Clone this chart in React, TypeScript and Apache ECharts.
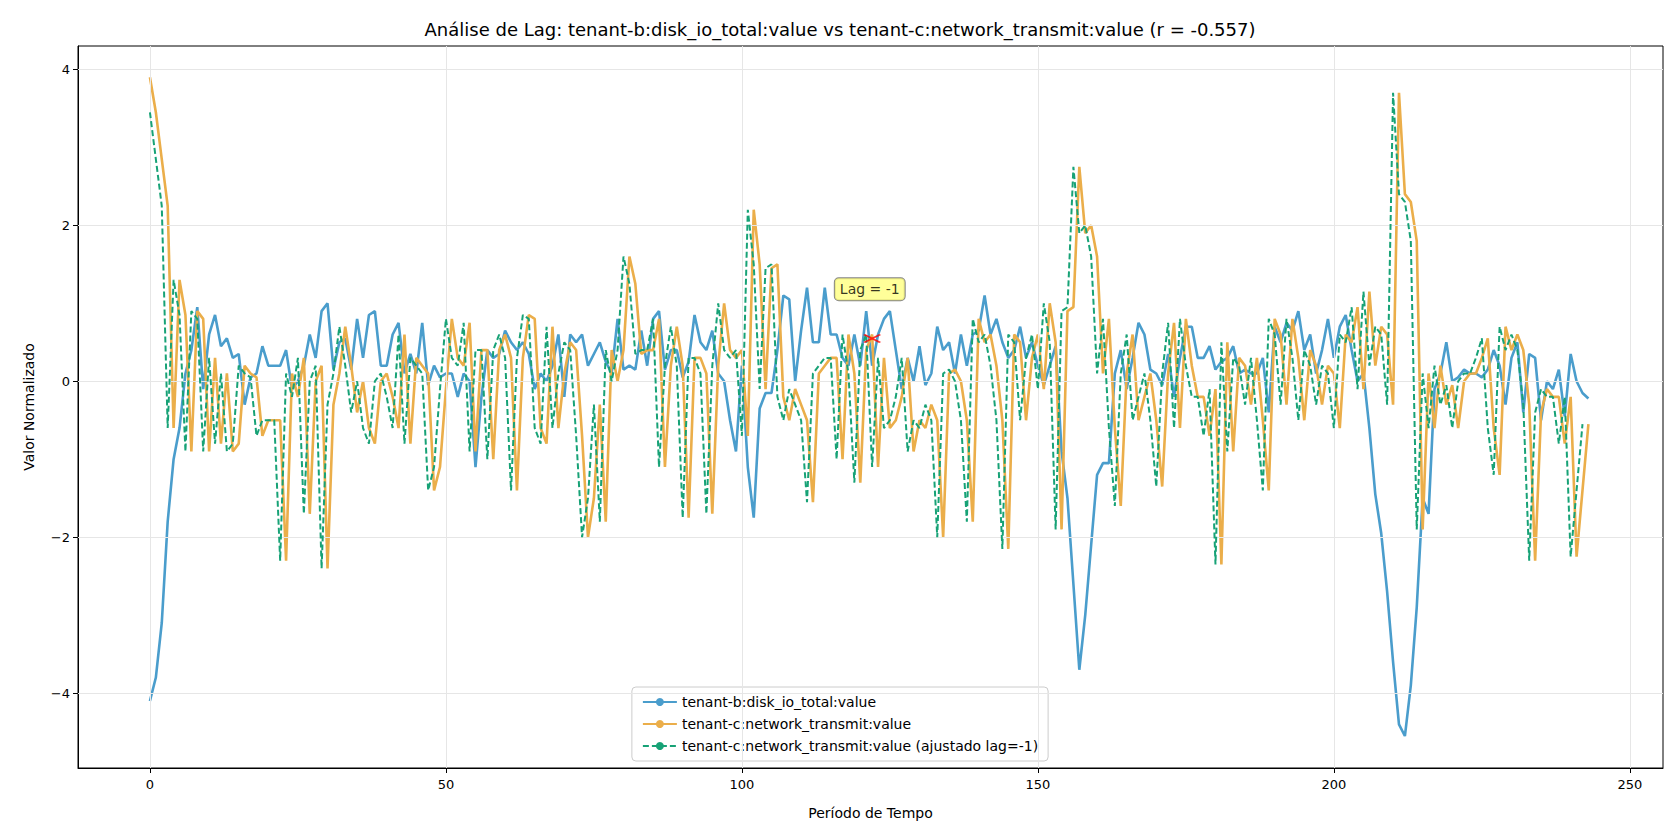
import React, { useEffect, useRef } from "react";
import * as echarts from "echarts";

const titleText = "Análise de Lag: tenant-b:disk_io_total:value vs tenant-c:network_transmit:value (r = -0.557)";
const seriesNames = [
  "tenant-b:disk_io_total:value",
  "tenant-c:network_transmit:value",
  "tenant-c:network_transmit:value (ajustado lag=-1)",
];
const lag = -1;
const xTicks = [0, 50, 100, 150, 200, 250];
const yTicks = [-4, -2, 0, 2, 4];

const blueValues = [
  -4.1, -3.8, -3.1, -1.8, -1.0, -0.6, 0.1, 0.4, 0.95, -0.1, 0.6, 0.85, 0.45, 0.55, 0.3, 0.35, -0.3, 0.05, 0.1, 0.45,
  0.2, 0.2, 0.2, 0.4, -0.1, 0, 0.2, 0.6, 0.3, 0.9, 1.0, 0.15, 0.5, 0.55, 0.15, 0.8, 0.3, 0.85, 0.9, 0.2,
  0.2, 0.6, 0.75, 0.1, 0.35, 0.1, 0.75, -0.05, 0.2, 0.05, 0.1, 0.1, -0.2, 0.1, 0, -1.1, -0.2, 0.4, 0.3, 0.35,
  0.65, 0.5, 0.4, 0.5, 0.35, -0.1, 0.1, 0.0, 0.2, 0.6, -0.2, 0.6, 0.5, 0.6, 0.2, 0.35, 0.5, 0.25, 0.1, 0.8,
  0.15, 0.2, 0.15, 0.65, 0.2, 0.8, 0.9, 0.15, 0.4, 0.4, 0.05, 0.25, 0.85, 0.5, 0.4, 0.65, 0.1, 0.0, -0.5, -0.9,
  0.2, -1.1, -1.75, -0.35, -0.15, -0.15, 0.4, 1.1, 1.05, 0, 0.65, 1.2, 0.5, 0.5, 1.2, 0.6, 0.6, 0.3, 0.2, 0.6,
  0.2, 0.9, 0.2, 0.6, 0.8, 0.9, 0.4, -0.1, 0.3, 0, 0.45, -0.05, 0.1, 0.7, 0.4, 0.5, 0.1, 0.6, 0.2, 0.6,
  0.65, 1.1, 0.6, 0.8, 0.5, 0.3, 0.4, 0.7, 0.3, 0.5, 0.2, -0.05, 0.2, 0.45, -0.9, -1.5, -2.6, -3.7, -3.0, -2.1,
  -1.2, -1.05, -1.05, 0.1, 0.4, -0.1, 0.3, 0.75, 0.6, 0.15, 0.1, -0.05, 0.35, -0.2, 0.3, 0.7, 0.7, 0.3, 0.3, 0.45,
  0.15, 0.25, 0.3, 0.45, 0.1, 0.15, 0.1, 0.1, 0.3, -0.4, 0.7, 0.5, 0.75, 0.65, 0.9, 0.4, 0.6, 0.1, 0.4, 0.8,
  0.3, 0.7, 0.85, 0.4, 0, 0.1, -0.6, -1.45, -1.95, -2.7, -3.6, -4.4, -4.55, -3.9, -2.9, -1.5, -1.7, -0.1, 0.1, 0.5,
  0, 0.05, 0.15, 0.1, 0.1, 0.05, 0.15, 0.4, 0.2, -0.3, 0.3, 0.5, -0.4, 0.35, 0.3, -0.5, 0, -0.1, 0.15, -0.45,
  0.35, 0, -0.15, -0.22,
];

const orangeValues = [
  3.9, 3.45, 2.85, 2.25, -0.6, 1.3, 0.85, -0.9, 0.9, 0.8, -0.9, 0.3, -0.8, 0.1, -0.9, -0.8, 0.2, 0.1, 0.05, -0.7,
  -0.5, -0.5, -0.5, -2.3, 0.1, -0.2, 0.3, -1.7, 0, 0.2, -2.4, -0.3, 0.1, 0.7, 0.2, -0.4, 0, -0.6, -0.8, 0,
  0.1, -0.2, -0.6, 0.6, -0.8, 0.3, 0.2, 0.1, -1.4, -1.1, -0.1, 0.8, 0.3, 0.2, 0.75, -0.9, 0.4, 0.4, -1.0, 0.4,
  0.6, 0.3, -1.4, 0.3, 0.85, 0.8, -0.6, -0.8, 0.7, -0.6, 0.1, 0.5, 0.4, -0.7, -2.0, -1.5, -0.3, -1.8, 0.4, 0,
  0.4, 1.6, 1.25, 0.35, 0.4, 0.4, 0.8, -1.1, 0.2, 0.7, 0.2, -1.75, 0.3, 0.3, 0.1, -1.7, 0.2, 1.0, 0.4, 0.3,
  0.4, -0.7, 2.2, 1.5, -0.1, 1.45, 1.5, -0.2, -0.5, -0.1, -0.3, -0.5, -1.55, 0.1, 0.2, 0.3, 0.3, -1.0, 0.6, 0.1,
  -1.3, 0.4, 0.6, -1.1, 0.3, -0.6, -0.5, -0.2, 0.3, -0.9, -0.5, -0.6, -0.3, -0.5, -2.0, 0.1, 0.15, 0, -0.5, -1.8,
  0.8, 0.5, 0.6, 0.2, -0.5, -2.15, 0.6, 0.5, -0.5, 0.3, 0.6, -0.1, 1.0, 0.5, -1.9, 0.9, 0.95, 2.75, 1.9, 2.0,
  1.6, 0.1, 0.8, -0.6, -1.6, 0.1, 0.6, -0.5, -0.2, 0.1, -0.5, -1.35, 0.1, 0.75, -0.6, 0.8, 0.2, -0.2, -0.2, -0.7,
  -0.1, -2.35, 0.5, -0.9, 0.3, 0.2, -0.3, 0.3, -0.5, -1.4, 0.8, 0.6, -0.3, 0.8, 0.3, -0.5, 0.4, 0.2, -0.3, 0.2,
  0.1, -0.6, 0.6, 0.5, 0.95, -0.1, 1.15, 0.2, 0.7, 0.6, -0.3, 3.7, 2.4, 2.3, 1.8, -1.9, 0.1, -0.6, 0.2, -0.3,
  -0.05, -0.6, 0, 0.1, 0.1, 0.3, 0.55, -0.6, -1.2, 0.7, 0.4, 0.6, 0.4, -0.3, -2.3, -0.4, -0.1, -0.2, -0.2, -0.8,
  -0.2, -2.25, -1.4, -0.55,
];

const annotPoint = [122, 0.55];
const annotLabelPos = [121.6, 1.18];

export default function App() {
  const ref = useRef<HTMLDivElement>(null);
  useEffect(() => {
    const chart = echarts.init(ref.current!, null, { renderer: "svg" });
    const blue = blueValues.map((v, i) => [i, v]);
    const orange = orangeValues.map((v, i) => [i, v]);
    const green: number[][] = [];
    for (let i = 0; i < orangeValues.length; i++) {
      const j = i - lag;
      if (j >= 0 && j < orangeValues.length) green.push([i, orangeValues[j]]);
    }
    const font = "DejaVu Sans";
    chart.setOption({
      animation: false,
      textStyle: { fontFamily: font },
      title: {
        text: titleText,
        left: "center",
        top: 15,
        textStyle: { fontSize: 18, fontWeight: "normal", color: "#000", fontFamily: font },
      },
      grid: { left: 78, right: 17, top: 46, bottom: 72, show: true, borderColor: "#000", borderWidth: 1, backgroundColor: "transparent" },
      xAxis: {
        type: "value",
        min: -12.15,
        max: 255.6,
        name: "Período de Tempo",
        nameLocation: "middle",
        nameGap: 38,
        nameTextStyle: { fontSize: 14, color: "#000" },
        axisLine: { show: true, onZero: false, lineStyle: { color: "#000" } },
        axisTick: { show: true, customValues: xTicks, length: 5, lineStyle: { color: "#000" } },
        axisLabel: { customValues: xTicks, fontSize: 13, color: "#000", margin: 10 },
        splitLine: { show: false },
      },
      yAxis: {
        type: "value",
        min: -4.96,
        max: 4.3,
        name: "Valor Normalizado",
        nameLocation: "middle",
        nameGap: 42,
        nameTextStyle: { fontSize: 14, color: "#000" },
        axisLine: { show: true, onZero: false, lineStyle: { color: "#000" } },
        axisTick: { show: true, customValues: yTicks, length: 5, lineStyle: { color: "#000" } },
        axisLabel: {
          customValues: yTicks,
          fontSize: 13,
          color: "#000",
          formatter: (v: number) => (v < 0 ? "\u2212" + Math.abs(v) : String(v)),
        },
        splitLine: { show: false },
      },
      legend: {
        orient: "vertical",
        left: "center",
        bottom: 79,
        data: seriesNames,
        backgroundColor: "#fff",
        borderColor: "#ccc",
        borderWidth: 1,
        borderRadius: 4,
        padding: [8, 10],
        itemWidth: 34,
        itemHeight: 10,
        itemGap: 8,
        textStyle: { fontSize: 14, color: "#000" },
      },
      series: [
        {
          type: "line",
          silent: true,
          data: [],
          markLine: {
            silent: true,
            symbol: "none",
            label: { show: false },
            lineStyle: { color: "#e6e6e6", width: 1, type: "solid" },
            data: [
              ...xTicks.map((x) => ({ xAxis: x })),
              ...yTicks.map((y) => ({ yAxis: y })),
            ],
          },
        },
        {
          name: seriesNames[0],
          type: "line",
          data: blue,
          symbol: "none",
          lineStyle: { color: "#4a9dcc", width: 2.6 },
          itemStyle: { color: "#4a9dcc" },
          z: 3,
        },
        {
          name: seriesNames[1],
          type: "line",
          data: orange,
          symbol: "none",
          lineStyle: { color: "#ebae4a", width: 2.6 },
          itemStyle: { color: "#ebae4a" },
          z: 4,
        },
        {
          name: seriesNames[2],
          type: "line",
          data: green,
          symbol: "none",
          lineStyle: { color: "#17a276", width: 2, type: [6, 3] },
          itemStyle: { color: "#17a276" },
          z: 5,
        },
        {
          type: "scatter",
          data: [annotPoint],
          symbol: "path://M0,0L10,6M10,0L0,6",
          symbolSize: [16, 8],
          itemStyle: { color: "none", borderColor: "#ff0000", borderWidth: 2 },
          z: 6,
        },
        {
          type: "scatter",
          data: [annotLabelPos],
          symbolSize: 0,
          label: {
            show: true,
            position: "inside",
            formatter: "Lag = " + lag,
            fontSize: 14,
            color: "#000",
            backgroundColor: "#ffff80",
            borderColor: "#666",
            borderWidth: 1,
            borderRadius: 4,
            padding: [4, 5],
          },
          z: 7,
        },
      ],
    });
    return () => chart.dispose();
  }, []);
  return <div ref={ref} style={{ position: "absolute", left: 0, top: 0, width: 1680, height: 840 }} />;
}
